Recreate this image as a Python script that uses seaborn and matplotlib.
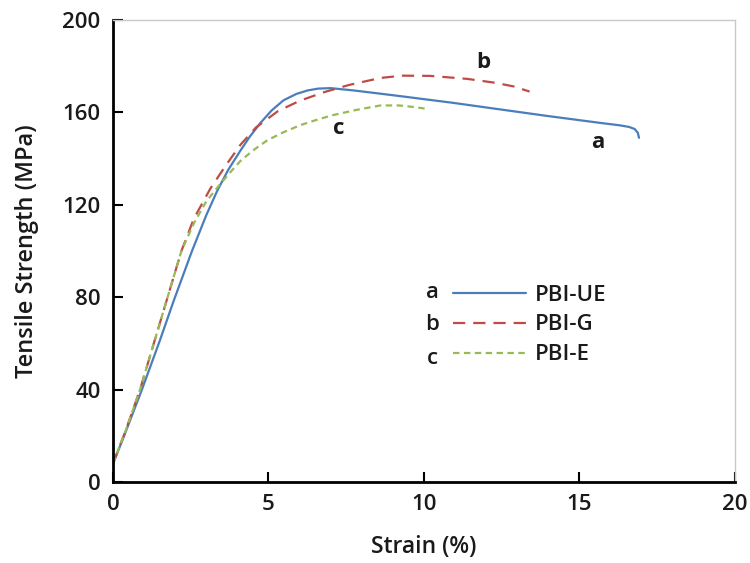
import matplotlib
matplotlib.use("Agg")
import matplotlib.pyplot as plt
import seaborn as sns
import pandas as pd

# ---- data ----
ue_x = [0, 0.3, 0.93, 1.5, 1.94, 2.54, 3.0, 3.35, 3.7, 4.1, 4.4, 4.74, 5.1, 5.48, 5.9, 6.26,
        6.6, 7.0, 7.74, 8.6, 9.26, 10.9, 12.5, 14.0, 15.7, 16.3, 16.6, 16.78, 16.88, 16.92]
ue_y = [8, 18, 40, 61, 78, 100, 115.5, 126, 135, 143.5, 149.5, 155.4, 160.8, 165.2, 168, 169.5,
        170.3, 170.5, 169.5, 168.1, 167.0, 164.2, 161.2, 158.4, 155.4, 154.4, 153.7, 152.8, 151.2, 149]

g_x = [0, 0.4, 0.87, 1.4, 1.8, 2.2, 2.6, 3.13, 3.6, 4.1, 4.6, 5.3, 6.0, 6.8, 7.6, 8.6, 9.3,
       10.2, 11.4, 12.3, 12.9, 13.4]
g_y = [8, 22, 40, 64, 82, 100, 114, 127, 136.5, 146, 153.5, 160.5, 165, 168.8, 171.9, 174.9,
       175.9, 175.8, 174.5, 172.8, 171.2, 169]

e_x = [0, 0.4, 0.87, 1.4, 1.8, 2.2, 2.6, 3.0, 3.45, 3.8, 4.1, 4.5, 4.97, 5.5, 6.03, 6.6, 7.1,
       7.8, 8.6, 9.2, 9.7, 10.1]
e_y = [8, 22, 40, 64, 82, 100, 112, 121.5, 129, 134.5, 139, 143.5, 148, 151.5, 154.5, 157, 158.9,
       161, 163, 163, 162.3, 161.5]

series_names = ["PBI-UE", "PBI-G", "PBI-E"]
series_letters = ["a", "b", "c"]
colors = ["#4A7EBB", "#BE4B48", "#98B954"]

x_ticks = [0, 5, 10, 15, 20]
y_ticks = [0, 40, 80, 120, 160, 200]

# ---- style ----
sns.set_theme(style="white")
plt.rcParams["font.family"] = ["Open Sans", "DejaVu Sans"]
TXT = "#1a1a1a"

fig = plt.figure(figsize=(7.5, 5.63), dpi=100)
ax = fig.add_axes([0.1507, 0.1439, 0.829, 0.8206])

dfs = [pd.DataFrame({"x": ue_x, "y": ue_y}),
       pd.DataFrame({"x": g_x, "y": g_y}),
       pd.DataFrame({"x": e_x, "y": e_y})]
dashes = [None, (0, (5.5, 3.6)), (0, (2.9, 2.0))]
handles = []
for df, name, col, ds in zip(dfs, series_names, colors, dashes):
    sns.lineplot(data=df, x="x", y="y", ax=ax, color=col, linewidth=1.6,
                 sort=False, estimator=None, label=name)
    line = ax.get_lines()[-1]
    if ds is not None:
        line.set_linestyle(ds)
    line.set_solid_joinstyle("round")
    handles.append(line)

ax.set_xlim(0, 20)
ax.set_ylim(0, 200)
ax.set_xticks(x_ticks)
ax.set_yticks(y_ticks)
ax.tick_params(direction="in", length=7, width=1.5, colors="black",
               labelsize=16, left=True, bottom=True)
ax.tick_params(axis="y", pad=9)
ax.tick_params(axis="x", pad=9)
for lab in ax.get_xticklabels() + ax.get_yticklabels():
    lab.set_fontweight("semibold")
    lab.set_color(TXT)

for s in ["left", "bottom"]:
    ax.spines[s].set_color("black")
    ax.spines[s].set_linewidth(2.0)
for s in ["top", "right"]:
    ax.spines[s].set_color("#c8c8c8")
    ax.spines[s].set_linewidth(1.0)

ax.set_xlabel("Strain (%)", fontsize=16.5, fontweight="semibold", labelpad=14, color=TXT)
ax.set_ylabel("Tensile Strength (MPa)", fontsize=17, fontweight="semibold", labelpad=17, color=TXT)

# curve annotations
for lx, ly, lt in [(11.9, 181.5, "b"), (15.6, 147, "a"), (7.26, 153, "c")]:
    ax.text(lx, ly, lt, fontsize=16, fontweight="bold", ha="center", va="center", color=TXT)

# legend
leg = ax.legend(handles=handles, labels=series_names, loc="center left",
                bbox_to_anchor=(0.547, 0.340), borderaxespad=0, borderpad=0,
                frameon=False, handlelength=3.3, handletextpad=0.4,
                labelspacing=0.4, prop={"size": 16, "weight": "semibold"})
for t in leg.get_texts():
    t.set_color(TXT)
for letter, yy in zip(series_letters, [0.411, 0.340, 0.268]):
    ax.text(0.513, yy, letter, transform=ax.transAxes, fontsize=16,
            fontweight="semibold", ha="center", va="center", color=TXT)

fig.savefig("out.png", dpi=100)
